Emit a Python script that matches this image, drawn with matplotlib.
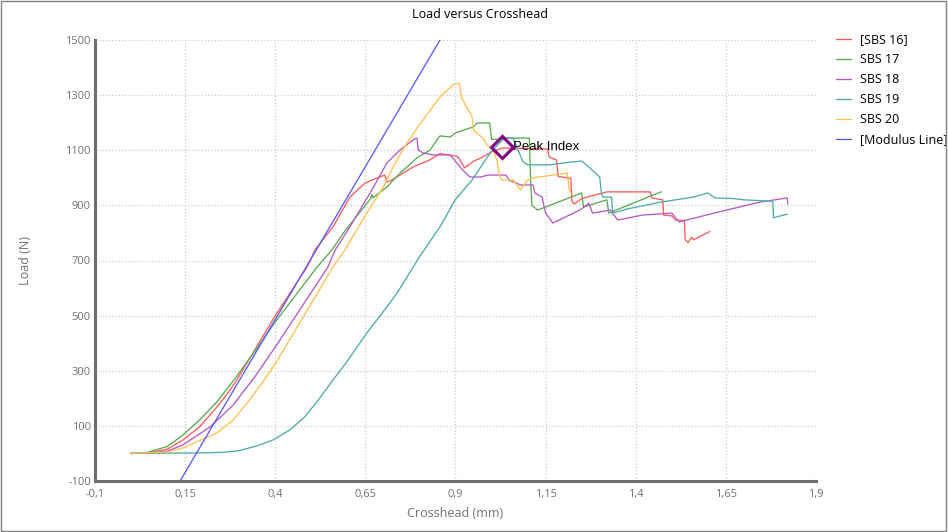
import matplotlib
matplotlib.use("Agg")
import matplotlib.pyplot as plt
from matplotlib.patches import Rectangle
from matplotlib.ticker import FixedLocator, FuncFormatter

# --- data ---
sbs16_x = [0, 0.05, 0.1, 0.144, 0.19, 0.238, 0.266, 0.288, 0.366, 0.40, 0.488, 0.51, 0.56, 0.607,
           0.649, 0.682, 0.704, 0.71, 0.72, 0.746, 0.782, 0.829, 0.857, 0.904, 0.91, 0.925, 0.95,
           0.975, 1.0, 1.03, 1.155, 1.16, 1.18, 1.185, 1.22, 1.223, 1.23, 1.25, 1.32, 1.44, 1.445,
           1.475, 1.477, 1.5, 1.51, 1.535, 1.537, 1.545, 1.555, 1.56, 1.605]
sbs16_y = [0, 3, 15, 49, 96, 168, 215, 255, 425, 500, 676, 738, 822, 930,
           981, 999, 1010, 985, 990, 1010, 1039, 1065, 1088, 1078, 1070, 1036, 1060,
           1075, 1094, 1108, 1105, 1075, 1065, 1005, 998, 915, 905, 925, 949, 949, 927,
           920, 865, 862, 847, 845, 775, 765, 785, 775, 805]

sbs17_x = [0, 0.04, 0.1, 0.144, 0.19, 0.238, 0.283, 0.366, 0.4, 0.516, 0.557, 0.589, 0.665, 0.668,
           0.671, 0.71, 0.746, 0.796, 0.829, 0.845, 0.857, 0.885, 0.9, 0.95, 0.96, 0.995, 1.0,
           1.02, 1.04, 1.105, 1.108, 1.112, 1.128, 1.25, 1.255, 1.32, 1.325, 1.47]
sbs17_y = [0, 2, 25, 67, 121, 187, 262, 412, 477, 676, 738, 800, 925, 940,
           927, 967, 1017, 1075, 1100, 1130, 1152, 1148, 1163, 1185, 1199, 1199, 1140,
           1140, 1144, 1144, 1000, 900, 883, 945, 894, 920, 872, 949]

sbs18_x = [0, 0.05, 0.1, 0.144, 0.219, 0.283, 0.316, 0.338, 0.4, 0.546, 0.566, 0.607, 0.668, 0.71,
           0.746, 0.782, 0.793, 0.797, 0.81, 0.84, 0.885, 0.92, 0.94, 0.97, 0.99, 1.04, 1.05,
           1.07, 1.08, 1.115, 1.12, 1.14, 1.15, 1.17, 1.245, 1.27, 1.28, 1.33, 1.335, 1.35,
           1.42, 1.5, 1.52, 1.63, 1.745, 1.82, 1.822]
sbs18_y = [0, 1, 8, 31, 96, 175, 232, 268, 386, 676, 738, 822, 956, 1054,
           1101, 1137, 1144, 1101, 1090, 1083, 1083, 1028, 1003, 1003, 1010, 1010, 990,
           981, 974, 974, 945, 930, 872, 836, 883, 908, 872, 883, 872, 847,
           865, 872, 840, 876, 912, 927, 905]

sbs19_x = [0, 0.1, 0.2, 0.255, 0.3, 0.35, 0.394, 0.44, 0.48, 0.52, 0.56, 0.6, 0.654, 0.7, 0.738,
           0.80, 0.857, 0.899, 0.946, 0.996, 1.03, 1.04, 1.06, 1.07, 1.087, 1.1, 1.16, 1.2,
           1.25, 1.27, 1.3, 1.305, 1.31, 1.333, 1.336, 1.38, 1.43, 1.47, 1.56, 1.6, 1.62,
           1.67, 1.7, 1.78, 1.782, 1.82]
sbs19_y = [0, 1, 2, 4, 10, 28, 49, 85, 130, 195, 266, 335, 437, 515, 582,
           713, 822, 920, 992, 1090, 1137, 1144, 1144, 1112, 1058, 1047, 1047, 1054,
           1061, 1039, 1003, 940, 930, 930, 872, 888, 901, 912, 930, 945, 927,
           925, 920, 915, 855, 868]

sbs20_x = [0, 0.1, 0.144, 0.238, 0.283, 0.33, 0.366, 0.4, 0.56, 0.593, 0.654, 0.70, 0.727,
           0.76, 0.793, 0.857, 0.893, 0.91, 0.917, 0.925, 0.946, 0.95, 0.976, 0.987, 1.004,
           1.015, 1.023, 1.03, 1.06, 1.08, 1.1, 1.115, 1.17, 1.21, 1.215, 1.22]
sbs20_y = [0, 5, 20, 74, 121, 196, 260, 325, 676, 738, 872, 967, 1039,
           1115, 1180, 1293, 1337, 1344, 1290, 1271, 1221, 1173, 1144, 1119, 1101,
           1065, 1003, 992, 992, 956, 992, 1000, 1010, 1017, 960, 945]

modulus_x = [0.136, 0.857]
modulus_y = [-100, 1500]

peak_x = 1.029
peak_y = 1110

series = [
    ("[SBS 16]", sbs16_x, sbs16_y, "#ff5a5a"),
    ("SBS 17", sbs17_x, sbs17_y, "#5aaa50"),
    ("SBS 18", sbs18_x, sbs18_y, "#b45ac8"),
    ("SBS 19", sbs19_x, sbs19_y, "#50aaaa"),
    ("SBS 20", sbs20_x, sbs20_y, "#ffc050"),
]

x_ticks = [-0.1, 0.15, 0.4, 0.65, 0.9, 1.15, 1.4, 1.65, 1.9]
y_ticks = [-100, 100, 300, 500, 700, 900, 1100, 1300, 1500]

plt.rcParams['font.family'] = ['Open Sans', 'DejaVu Sans']

fig = plt.figure(figsize=(9.48, 5.32), dpi=100)
ax = fig.add_axes([95 / 948, 1 - 481 / 532, 721 / 948, 441 / 532])

for name, xs, ys, col in series:
    ax.plot(xs, ys, color=col, lw=0.95, label=name)
ax.plot(modulus_x, modulus_y, color="#5a5aff", lw=0.95, label="[Modulus Line]")

ax.plot(peak_x, peak_y, marker="D", ms=11, mfc="none", mec="#800080", mew=2.2, zorder=5)
ax.annotate("Peak Index", (peak_x, peak_y), xytext=(8, 0), textcoords="offset points",
            va="center", ha="left", fontsize=9.5, family=["Liberation Sans", "DejaVu Sans"])

ax.set_xlim(-0.1, 1.9)
ax.set_ylim(-100, 1500)
ax.xaxis.set_major_locator(FixedLocator(x_ticks))
ax.yaxis.set_major_locator(FixedLocator(y_ticks))
ax.xaxis.set_major_formatter(FuncFormatter(lambda v, p: ("%g" % round(v, 2)).replace(".", ",")))
ax.yaxis.set_major_formatter(FuncFormatter(lambda v, p: "%d" % v))

ax.grid(True, color="#cccccc", linestyle=":", lw=0.9)
ax.set_axisbelow(True)
for s in ["top", "right"]:
    ax.spines[s].set_visible(False)
for s in ["left", "bottom"]:
    ax.spines[s].set_color("#6d6d6d")
    ax.spines[s].set_linewidth(2.2)
ax.tick_params(length=0, labelsize=8, labelcolor="#707070", pad=3)
ax.tick_params(axis="x", pad=6)

ax.set_xlabel("Crosshead (mm)", fontsize=9, color="#707070")
ax.set_ylabel("Load (N)", fontsize=9, color="#707070")
ax.xaxis.set_label_coords(0.5, -0.058)
ax.yaxis.set_label_coords(-0.088, 0.5)

fig.text(480 / 948, 1 - 15 / 532, "Load versus Crosshead", ha="center", va="center",
         fontsize=9, color="#000000")

ax.legend(loc="upper left", bbox_to_anchor=(836 / 948, 1 - 33 / 532),
          bbox_transform=fig.transFigure, frameon=False, fontsize=9,
          handlelength=1.2, handletextpad=0.7, labelspacing=0.56, borderpad=0,
          borderaxespad=0)

fig.patches.append(Rectangle((0.001, 0.002), 0.997, 0.996, transform=fig.transFigure,
                             fill=False, edgecolor="#808080", lw=1))

fig.savefig("out.png", dpi=100)
